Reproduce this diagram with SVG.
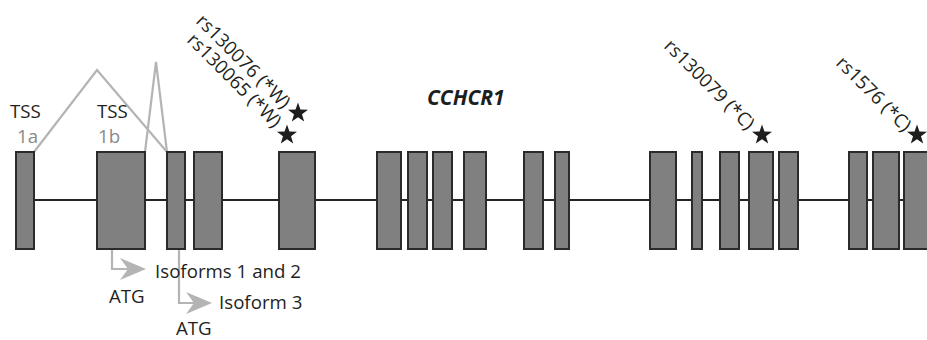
<svg xmlns="http://www.w3.org/2000/svg" width="927" height="340" viewBox="0 0 927 340">
<defs>
<style>
.exon{fill:#808080;stroke:#2b2b2b;stroke-width:2}
.intron{stroke:#232323;stroke-width:2;fill:none}
.gl{stroke:#b4b4b4;stroke-width:2.2;fill:none}
.t{font-family:"Open Sans","Liberation Sans",sans-serif;font-size:18.7px;fill:#231f20}
.tg{font-family:"Open Sans","Liberation Sans",sans-serif;font-size:18.7px;fill:#8a8a8a}
.b{font-family:"Open Sans","Liberation Sans",sans-serif;font-size:21px;font-weight:bold;font-style:italic;fill:#1e1e1e}
.ah{fill:#b4b4b4}
.st{fill:#1e1e1e}
</style>
<path id="star" d="M0,-10.5 L2.45,-3.4 L10,-3.25 L4,1.3 L6.2,8.5 L0,4.2 L-6.2,8.5 L-4,1.3 L-10,-3.25 L-2.45,-3.4 Z"/>
<path id="arrh" d="M0,-11 L26,0 L0,11 L8,0 Z"/>
</defs>
<rect width="927" height="340" fill="#ffffff"/>
<g id="connectors">
<line class="intron" x1="25" y1="200" x2="927" y2="200"/>
<polyline class="gl" points="34,152 97,70 167,152"/>
<polyline class="gl" points="145,152 156,62 167,152"/>
<polyline class="gl" points="112,249 112,269 128,269"/>
<use href="#arrh" class="ah" x="120" y="269"/>
<polyline class="gl" points="179,249 179,303 194,303"/>
<use href="#arrh" class="ah" x="186" y="303"/>
</g>
<g id="exons">
<rect id="e1a" class="exon" x="16" y="152" width="18" height="97"/>
<rect id="e1b" class="exon" x="97" y="152" width="48" height="97"/>
<rect id="e3" class="exon" x="167" y="152" width="18" height="97"/>
<rect id="e4" class="exon" x="194" y="152" width="28" height="97"/>
<rect id="e5" class="exon" x="279" y="152" width="36" height="97"/>
<rect id="e6" class="exon" x="377" y="152" width="24" height="97"/>
<rect id="e7" class="exon" x="408" y="152" width="19" height="97"/>
<rect id="e8" class="exon" x="433" y="152" width="19" height="97"/>
<rect id="e9" class="exon" x="464" y="152" width="22" height="97"/>
<rect id="e10" class="exon" x="524" y="152" width="19" height="97"/>
<rect id="e11" class="exon" x="555" y="152" width="14" height="97"/>
<rect id="e12" class="exon" x="650" y="152" width="26" height="97"/>
<rect id="e13" class="exon" x="692" y="152" width="10" height="97"/>
<rect id="e14" class="exon" x="720" y="152" width="19" height="97"/>
<rect id="e15" class="exon" x="749" y="152" width="24" height="97"/>
<rect id="e16" class="exon" x="779" y="152" width="19" height="97"/>
<rect id="e17" class="exon" x="849" y="152" width="18" height="97"/>
<rect id="e18" class="exon" x="873" y="152" width="26" height="97"/>
<rect id="e19" class="exon" x="904" y="152" width="26" height="97"/>
</g>
<g id="labels">
<text class="t" x="10" y="118">TSS</text>
<text class="tg" x="17" y="143">1a</text>
<text class="t" x="97" y="118">TSS</text>
<text class="tg" x="98" y="143">1b</text>
<text class="b" x="427" y="105">CCHCR1</text>
<text class="t" x="155" y="278">Isoforms 1 and 2</text>
<text class="t" x="109" y="303">ATG</text>
<text class="t" x="219" y="309">Isoform 3</text>
<text class="t" x="176" y="335">ATG</text>
</g>
<g id="snps">
<text class="t" transform="translate(195,22) rotate(45)">rs130076 (*W)</text>
<text class="t" transform="translate(186,41) rotate(45)">rs130065 (*W)</text>
<text class="t" transform="translate(663,47) rotate(45)">rs130079 (*C)</text>
<text class="t" transform="translate(835,64) rotate(45)">rs1576 (*C)</text>
<use href="#star" class="st" x="298" y="113"/>
<use href="#star" class="st" x="287" y="135"/>
<use href="#star" class="st" x="762" y="135"/>
<use href="#star" class="st" x="917" y="135"/>
</g>
</svg>
